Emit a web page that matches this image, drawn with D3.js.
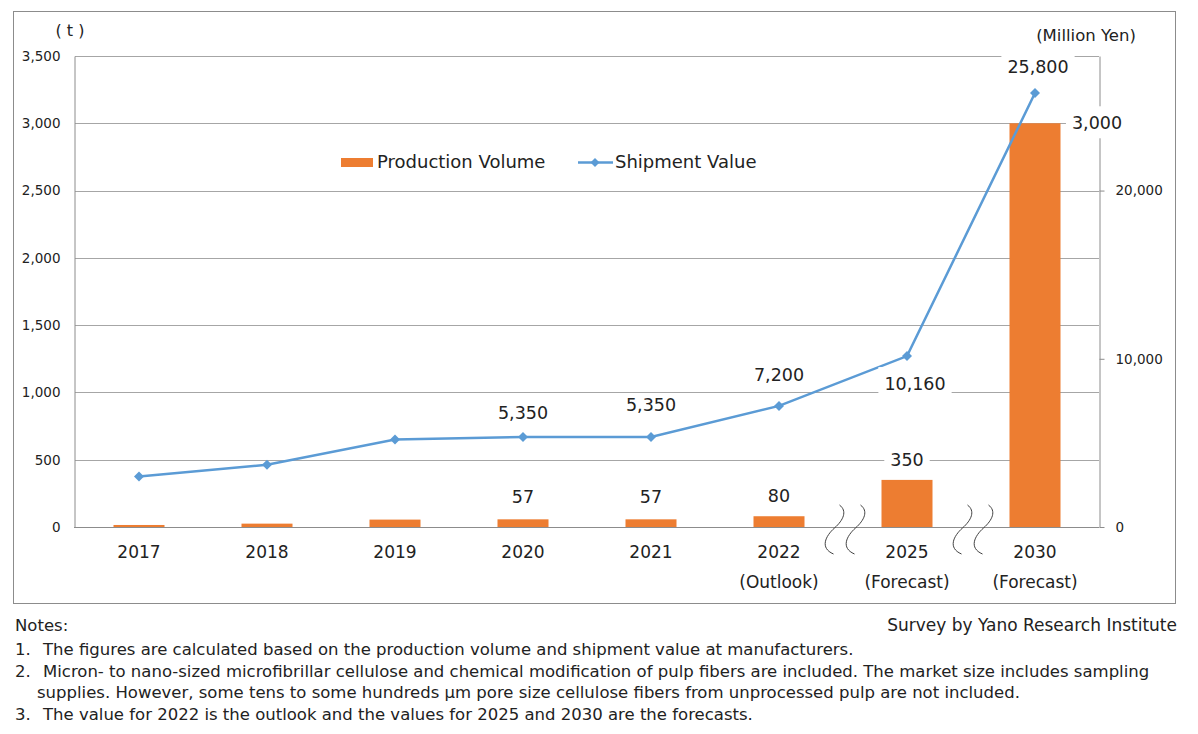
<!DOCTYPE html>
<html>
<head>
<meta charset="utf-8">
<script src="https://cdn.jsdelivr.net/npm/d3@7"></script>
<style>
  body { margin: 0; background: #fff; }
  text { font-family: "DejaVu Sans", sans-serif; fill: #222; }
</style>
</head>
<body>
<svg id="chart" width="1198" height="734"></svg>
<script>
// chart values
var categories = ["2017", "2018", "2019", "2020", "2021", "2022", "2025", "2030"];
var subLabels = ["", "", "", "", "", "(Outlook)", "(Forecast)", "(Forecast)"];
var volume = [15, 25, 55, 57, 57, 80, 350, 3000];        // t
var shipment = [3000, 3700, 5200, 5350, 5350, 7200, 10160, 25800]; // million yen
var showVolumeLabel = [false, false, false, true, true, true, true, true];
var showShipmentLabel = [false, false, false, true, true, true, true, true];
var leftTicks = [0, 500, 1000, 1500, 2000, 2500, 3000, 3500];
var rightTicks = [0, 10000, 20000];
var notes = [
    ["1.", "The figures are calculated based on the production volume and shipment value at manufacturers."],
    ["2.", "Micron- to nano-sized microfibrillar cellulose and chemical modification of pulp fibers are included. The market size includes sampling"],
    ["", "supplies. However, some tens to some hundreds \u00b5m pore size cellulose fibers from unprocessed pulp are not included."],
    ["3.", "The value for 2022 is the outlook and the values for 2025 and 2030 are the forecasts."]
];

// label placement (dx, dy from the mark, px) and whether a white box sits behind
var volLabelPos = [null, null, null, [0, -22, 0], [0, -22, 0], [0, -20, 0], [0, -20, 1], [62, 0, 1]];
var shipLabelPos = [null, null, null, [0, -24, 0], [0, -32, 0], [0, -31, 0], [8, 28, 1], [3, -26, 1]];

var svg = d3.select("#chart");
var fmt = d3.format(",");
var orange = "#ed7d31", blue = "#5b9bd5", gridColor = "#a6a6a6", axisColor = "#8c8c8c";

// outer frame
svg.append("rect")
    .attr("x", 13.5).attr("y", 11.5).attr("width", 1162).attr("height", 592)
    .attr("fill", "none").attr("stroke", "#8c8c8c");

var x = d3.scaleBand().domain(categories).range([75, 1099]).padding(0);
var yL = d3.scaleLinear().domain([0, 3500]).range([527, 56]);
var yR = d3.scaleLinear().domain([0, 28000]).range([527, 56]);
var cx = function (i) { return x(categories[i]) + x.bandwidth() / 2; };

// gridlines
svg.append("g").selectAll("line")
    .data(leftTicks.slice(1))
    .enter().append("line")
    .attr("x1", 75).attr("x2", 1099)
    .attr("y1", function (d) { return Math.round(yL(d)) + 0.5; })
    .attr("y2", function (d) { return Math.round(yL(d)) + 0.5; })
    .attr("stroke", gridColor);

// left axis
var gl = svg.append("g").attr("transform", "translate(74.5,0)")
    .call(d3.axisLeft(yL).tickValues(leftTicks).tickSize(0).tickPadding(14).tickFormat(fmt));
gl.select(".domain").attr("stroke", axisColor);
gl.selectAll("text").style("font-size", "13.5px").attr("fill", "#222").style("font-family", "DejaVu Sans");

// right axis
var gr = svg.append("g").attr("transform", "translate(1099.5,0)")
    .call(d3.axisRight(yR).tickValues(rightTicks).tickSizeInner(5).tickSizeOuter(0).tickPadding(11).tickFormat(fmt));
gr.select(".domain").attr("stroke", axisColor);
gr.selectAll(".tick line").attr("stroke", axisColor);
gr.selectAll("text").style("font-size", "13.5px").attr("fill", "#222").style("font-family", "DejaVu Sans");

// baseline
svg.append("line").attr("x1", 74).attr("x2", 1099).attr("y1", 527.5).attr("y2", 527.5).attr("stroke", axisColor);

// axis units
svg.append("text").attr("x", 70).attr("y", 36).attr("text-anchor", "middle")
    .style("font-size", "16px").attr("xml:space", "preserve").text("( t )");
svg.append("text").attr("x", 1086).attr("y", 41).attr("text-anchor", "middle")
    .style("font-size", "16.5px").text("(Million Yen)");

// category labels
var cat = svg.append("g");
cat.selectAll("text.year").data(categories).enter().append("text")
    .attr("x", function (d, i) { return cx(i); }).attr("y", 558)
    .attr("text-anchor", "middle").style("font-size", "17px").text(function (d) { return d; });
cat.selectAll("text.sub").data(subLabels).enter().append("text")
    .attr("x", function (d, i) { return cx(i); }).attr("y", 588)
    .attr("text-anchor", "middle").style("font-size", "17px").text(function (d) { return d; });

// bars
var barW = 51;
svg.append("g").selectAll("rect").data(volume).enter().append("rect")
    .attr("x", function (d, i) { return cx(i) - barW / 2; })
    .attr("width", barW)
    .attr("y", function (d) { return yL(d); })
    .attr("height", function (d) { return yL(0) - yL(d); })
    .attr("fill", orange);

// break marks between 2022|2025 and 2025|2030
var wave = "M6,-25 C14,-19 10,-10 1,-2 C-8,6 -14,18 0,24";
[6, 7].forEach(function (i) {
    var bx = x(categories[i]);
    [-10.5, 10.5].forEach(function (off) {
        svg.append("path").attr("d", wave)
            .attr("transform", "translate(" + (bx + off + 1) + ",530)")
            .attr("fill", "none").attr("stroke", "#404040").attr("stroke-width", 1);
    });
});

// shipment line
var line = d3.line().x(function (d, i) { return cx(i); }).y(function (d) { return yR(d); });
svg.append("path").datum(shipment).attr("d", line)
    .attr("fill", "none").attr("stroke", blue).attr("stroke-width", 2.5);
var diamond = function (s) { return "M0," + (-s) + "L" + s + ",0L0," + s + "L" + (-s) + ",0Z"; };
svg.append("g").selectAll("path").data(shipment).enter().append("path")
    .attr("d", diamond(5))
    .attr("transform", function (d, i) { return "translate(" + cx(i) + "," + yR(d) + ")"; })
    .attr("fill", blue);

// data labels
function addLabel(cxv, cyv, txt, box) {
    var g = svg.append("g");
    var t = g.append("text").attr("x", cxv).attr("y", cyv + 6)
        .attr("text-anchor", "middle").style("font-size", "17.5px").text(txt);
    if (box) {
        var b = t.node().getBBox();
        g.insert("rect", "text").attr("x", b.x - 6).attr("y", b.y - 7)
            .attr("width", b.width + 12).attr("height", b.height + 12).attr("fill", "#fff");
    }
}
volume.forEach(function (v, i) {
    if (!showVolumeLabel[i]) return;
    var p = volLabelPos[i];
    addLabel(cx(i) + p[0], yL(v) + p[1], fmt(v), p[2]);
});
shipment.forEach(function (v, i) {
    if (!showShipmentLabel[i]) return;
    var p = shipLabelPos[i];
    addLabel(cx(i) + p[0], yR(v) + p[1], fmt(v), p[2]);
});

// legend
var lg = svg.append("g");
lg.append("rect").attr("x", 341).attr("y", 158).attr("width", 32).attr("height", 9).attr("fill", orange);
lg.append("text").attr("x", 377).attr("y", 168).style("font-size", "18px").text("Production Volume");
lg.append("line").attr("x1", 578).attr("x2", 613).attr("y1", 162.5).attr("y2", 162.5)
    .attr("stroke", blue).attr("stroke-width", 2.5);
lg.append("path").attr("d", diamond(4.5)).attr("transform", "translate(595,162.5)").attr("fill", blue);
lg.append("text").attr("x", 615).attr("y", 168).style("font-size", "18px").text("Shipment Value");

// notes
svg.append("text").attr("x", 15).attr("y", 631).style("font-size", "16.5px").text("Notes:");
svg.append("text").attr("x", 1177).attr("y", 631).attr("text-anchor", "end")
    .style("font-size", "17px").text("Survey by Yano Research Institute");
notes.forEach(function (n, i) {
    var yy = 655 + i * 21.5;
    if (n[0]) svg.append("text").attr("x", 15).attr("y", yy).style("font-size", "16.5px").text(n[0]);
    svg.append("text").attr("x", n[0] ? 43 : 37).attr("y", yy).style("font-size", "16.5px").text(n[1]);
});
</script>
</body>
</html>
